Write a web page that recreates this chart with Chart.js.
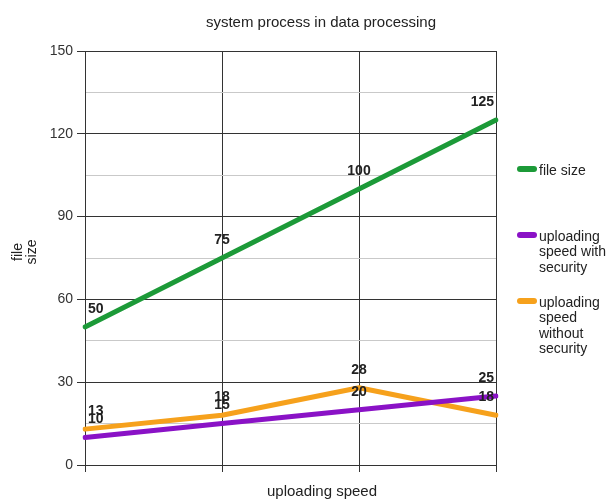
<!DOCTYPE html>
<html>
<head>
<meta charset="utf-8">
<script src="https://cdn.jsdelivr.net/npm/chart.js@4/dist/chart.umd.min.js"></script>
<style>
  html, body { margin: 0; padding: 0; background: #ffffff; }
  #wrap { width: 606px; height: 500px; }
</style>
</head>
<body>
<div id="wrap"><canvas id="chart" width="606" height="500"></canvas></div>
<script>
// Data
const categories = ['1', '2', '3', '4'];
const fileSize = [50, 75, 100, 125];
const speedWithSecurity = [10, 15, 20, 25];
const speedWithoutSecurity = [13, 18, 28, 18];
const seriesLabels = [
  ['file size'],
  ['uploading', 'speed with', 'security'],
  ['uploading', 'speed', 'without', 'security']
];
const yTickLabels = [0, 30, 60, 90, 120, 150];

const chartTitle = 'system process in data processing';
const xTitle = 'uploading speed';
const yTitle = ['file', 'size'];

const colors = ['#1c9a38', '#8a12c6', '#f6a11c'];
const FONT = "'Liberation Sans', Arial, Helvetica, sans-serif";
const TEXT = '#222222';
const MAJOR = '#333333';
const MINOR = '#c9c9c9';

// Titles, legend and value labels drawn on the canvas
const decorations = {
  id: 'decorations',
  afterDatasetsDraw(chart) {
    const ctx = chart.ctx;
    const area = chart.chartArea;
    ctx.save();
    ctx.font = 'bold 14px ' + FONT;
    ctx.fillStyle = TEXT;
    ctx.textAlign = 'left';
    ctx.textBaseline = 'middle';
    chart.data.datasets.forEach((ds, i) => {
      const meta = chart.getDatasetMeta(i);
      meta.data.forEach((pt, j) => {
        const txt = String(ds.data[j]);
        const w = ctx.measureText(txt).width;
        let x = pt.x - w / 2;
        x = Math.max(x, area.left + 3);
        x = Math.min(x, area.right - 2 - w);
        ctx.fillText(txt, x, pt.y - 18);
      });
    });
    ctx.restore();
  },
  afterDraw(chart) {
    const ctx = chart.ctx;
    ctx.save();
    ctx.fillStyle = TEXT;

    // chart title
    ctx.font = '15px ' + FONT;
    ctx.textAlign = 'center';
    ctx.textBaseline = 'alphabetic';
    ctx.fillText(chartTitle, 321, 27);

    // x axis title
    ctx.fillText(xTitle, 322, 496);

    // y axis title, rotated
    ctx.font = '14px ' + FONT;
    ctx.save();
    ctx.translate(25, 252);
    ctx.rotate(-Math.PI / 2);
    ctx.textBaseline = 'middle';
    yTitle.forEach((line, k) => ctx.fillText(line, 0, -7 + k * 14));
    ctx.restore();

    // legend
    ctx.textAlign = 'left';
    ctx.textBaseline = 'middle';
    ctx.lineCap = 'round';
    ctx.lineWidth = 6;
    const lineH = 15.5;
    let y0 = 170;
    chart.data.datasets.forEach((ds, i) => {
      ctx.strokeStyle = ds.borderColor;
      ctx.beginPath();
      ctx.moveTo(520, y0 - 1);
      ctx.lineTo(534, y0 - 1);
      ctx.stroke();
      seriesLabels[i].forEach((line, k) => ctx.fillText(line, 539, y0 + 1 + k * lineH));
      y0 += 66;
    });
    ctx.restore();
  }
};

const makeSet = (name, data, color) => ({
  label: name,
  data: data,
  borderColor: color,
  backgroundColor: color,
  borderWidth: 5,
  pointRadius: 0,
  pointHoverRadius: 0,
  tension: 0,
  fill: false,
  borderCapStyle: 'round',
  borderJoinStyle: 'round'
});

new Chart(document.getElementById('chart'), {
  type: 'line',
  data: {
    labels: categories,
    datasets: [
      makeSet(seriesLabels[0].join(' '), fileSize, colors[0]),
      makeSet(seriesLabels[1].join(' '), speedWithSecurity, colors[1]),
      makeSet(seriesLabels[2].join(' '), speedWithoutSecurity, colors[2])
    ]
  },
  options: {
    responsive: false,
    animation: false,
    devicePixelRatio: 1,
    layout: { padding: { top: 51, right: 110, bottom: 0, left: 0 } },
    plugins: {
      legend: { display: false },
      title: { display: false },
      tooltip: { enabled: false }
    },
    scales: {
      x: {
        offset: false,
        ticks: { display: false },
        grid: {
          color: MAJOR,
          tickColor: MAJOR,
          tickLength: 7,
          lineWidth: 1
        },
        border: { color: MAJOR },
        afterFit(scale) { scale.height = 35; }
      },
      y: {
        min: 0,
        max: 150,
        ticks: {
          stepSize: 15,
          padding: 4,
          color: '#333333',
          font: { family: FONT, size: 14 },
          callback: (v) => (yTickLabels.includes(v) ? String(v) : '')
        },
        grid: {
          color: (c) => (c.tick && c.tick.value % 30 === 0 ? MAJOR : MINOR),
          tickColor: (c) => (c.tick && c.tick.value % 30 === 0 ? MAJOR : 'rgba(0,0,0,0)'),
          tickLength: 8,
          lineWidth: 1
        },
        border: { color: MAJOR },
        afterFit(scale) { scale.width = 85; }
      }
    }
  },
  plugins: [decorations]
});
</script>
</body>
</html>
